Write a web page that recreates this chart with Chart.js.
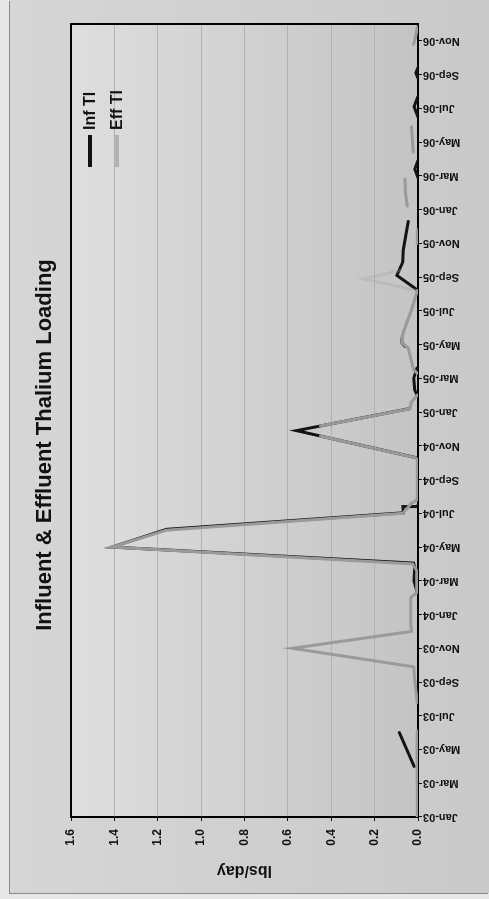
<!DOCTYPE html>
<html>
<head>
<meta charset="utf-8">
<title>Influent &amp; Effluent Thalium Loading</title>
<script src="https://cdn.jsdelivr.net/npm/chart.js@4.4.1/dist/chart.umd.min.js"></script>
<style>
  html, body { margin: 0; padding: 0; width: 489px; height: 899px; overflow: hidden; background: #e7e7e7; }
  /* the chart is laid out landscape and turned a quarter turn counter-clockwise */
  #sheet {
    position: absolute; left: 0; top: 0; width: 899px; height: 489px;
    transform-origin: 0 0; transform: translate(0, 899px) rotate(-90deg);
    background: #e7e7e7;
  }
  #frame {
    position: absolute; left: 6px; top: 10px; width: 893px; height: 479px;
    background: linear-gradient(to bottom, #d6d6d6, #c9c9c9);
    box-shadow: -1px -1px 0 #8a8a8a;
  }
  canvas { display: block; }
</style>
</head>
<body>
<div id="sheet"><div id="frame"><canvas id="chart" width="893" height="479"></canvas></div></div>
<script>
const chartTitle = 'Influent & Effluent Thalium Loading';

// Month axis: 0 = Jan-03, labelled every second month
const monthTicks = [0, 2, 4, 6, 8, 10, 12, 14, 16, 18, 20, 22, 24, 26, 28, 30, 32, 34, 36, 38, 40, 42, 44, 46];
const tickLabels = ['Jan-03', 'Mar-03', 'May-03', 'Jul-03', 'Sep-03', 'Nov-03',
                    'Jan-04', 'Mar-04', 'May-04', 'Jul-04', 'Sep-04', 'Nov-04',
                    'Jan-05', 'Mar-05', 'May-05', 'Jul-05', 'Sep-05', 'Nov-05',
                    'Jan-06', 'Mar-06', 'May-06', 'Jul-06', 'Sep-06', 'Nov-06'];
const loadTicks = [0, 0.2, 0.4, 0.6, 0.8, 1.0, 1.2, 1.4, 1.6];

// Influent thallium, lbs/day (null = no sample, line breaks)
const infMonth = [3.0, 5.0, 5.2,
                  13.3, 14.0, 14.8, 15.05, 16.0, 17.05, 18.03, 18.4, 18.4, 18.5, 18.7,
                  21.3, 22.9, 24.2, 24.5,
                  24.9, 25.3, 26.0, 26.6, 26.8,
                  27.9, 28.1, 28.5, 28.6,
                  31.3, 32.1, 32.9, 33.6, 35.3, 35.4,
                  37.9, 38.4, 38.9, 39.0,
                  41.5, 42.1, 42.7, 42.8,
                  43.8, 44.1, 44.4];
const infLbs   = [0.018, 0.086, null,
                  0.004, 0.018, 0.015, 0.02, 1.41, 1.16, 0.067, 0.07, 0.0, 0.0, null,
                  0.01, 0.56, 0.04, null,
                  0.0, 0.015, 0.02, 0.005, null,
                  0.06, 0.076, 0.072, null,
                  0.01, 0.097, 0.07, 0.068, 0.045, null,
                  0.0, 0.015, 0.0, null,
                  0.0, 0.018, 0.0, null,
                  0.0, 0.01, 0.0];

// Effluent thallium, lbs/day
const effMonth = [0, 2, 4, 5.1, 5.2,
                  6.8, 8.3, 8.9, 10.0, 11.0, 11.5, 13.0, 13.3, 14.6, 15.0, 16.0, 17.0, 18.0, 18.6, 18.8,
                  21.2, 21.3, 22.58, 22.9, 23.175, 24.2, 24.6, 25.0, 25.5,
                  26.3, 26.5, 27.8, 28.1, 28.7, 29.3, 30.05, 31.2, 31.9, 32.4, 32.5,
                  34.0, 34.8, 35.0,
                  36.2, 37.0, 37.8, 37.9,
                  39.4, 40.9, 41.0,
                  45.8, 46.3, 46.8];
const effLbs   = [0.004, 0.004, 0.005, 0.004, null,
                  0.004, 0.016, 0.02, 0.58, 0.03, 0.034, 0.034, 0.006, 0.006, 0.025, 1.41, 1.16, 0.07, 0.03, 0.003,
                  0.003, 0.012, 0.45, null, 0.45, 0.037, 0.03, 0.003, null,
                  0.003, 0.02, 0.045, 0.075, 0.068, 0.052, 0.03, 0.003, 0.25, 0.08, null,
                  0.003, 0.003, null,
                  0.05, 0.058, 0.06, null,
                  0.022, 0.03, null,
                  0.02, 0.01, 0.003];
// samples whose connecting strokes are very light
const faintMonths = [31.9];

const points = (xs, ys) => xs.map((m, i) => ({ x: m, y: ys[i] }));
const FONT = 'Liberation Sans, Arial, sans-serif';
Chart.defaults.font.family = FONT;

// graded fill behind the plot
const plotFill = {
  id: 'plotFill',
  beforeDraw(chart) {
    const { ctx, chartArea: a } = chart;
    const g = ctx.createLinearGradient(0, a.top, 0, a.bottom);
    g.addColorStop(0, '#dedede');
    g.addColorStop(1, '#c4c4c4');
    ctx.save();
    ctx.fillStyle = g;
    ctx.fillRect(a.left, a.top, a.right - a.left, a.bottom - a.top);
    ctx.restore();
  }
};

// closes the plot box on the two sides without an axis
const plotFrame = {
  id: 'plotFrame',
  beforeDatasetsDraw(chart) {
    const { ctx, chartArea: a } = chart;
    ctx.save();
    ctx.strokeStyle = '#000';
    ctx.lineWidth = 2;
    ctx.beginPath();
    ctx.moveTo(a.left, a.top);
    ctx.lineTo(a.right, a.top);
    ctx.lineTo(a.right, a.bottom);
    ctx.stroke();
    ctx.restore();
  }
};

// heading, centred on the whole chart box
const heading = {
  id: 'heading',
  afterDraw(chart) {
    const { ctx } = chart;
    ctx.save();
    ctx.font = 'bold 22px ' + FONT;
    ctx.fillStyle = '#111';
    ctx.textAlign = 'center';
    ctx.textBaseline = 'middle';
    ctx.fillText(chartTitle, 448, 35);
    ctx.restore();
  }
};

// series key inside the plot, one entry per row
const seriesKey = {
  id: 'seriesKey',
  afterDatasetsDraw(chart) {
    const { ctx, chartArea: a } = chart;
    const x0 = a.right - 143;
    ctx.save();
    ctx.font = 'bold 16px ' + FONT;
    ctx.textBaseline = 'middle';
    ctx.textAlign = 'left';
    chart.data.datasets.forEach((ds, i) => {
      const y = a.top + 19 + i * 27;
      ctx.strokeStyle = i === 0 ? '#111' : '#b2b2b2';
      ctx.lineWidth = 4;
      ctx.beginPath();
      ctx.moveTo(x0, y);
      ctx.lineTo(x0 + 32, y);
      ctx.stroke();
      ctx.fillStyle = '#111';
      ctx.fillText(ds.label, x0 + 37, y + 1);
    });
    ctx.restore();
  }
};

new Chart(document.getElementById('chart'), {
  type: 'line',
  data: {
    datasets: [
      {
        label: 'Inf Tl',
        data: points(infMonth, infLbs),
        borderColor: '#141414',
        borderWidth: 3,
        order: 2
      },
      {
        label: 'Eff Tl',
        data: points(effMonth, effLbs),
        borderColor: '#9a9a9a',
        borderWidth: 3,
        order: 1,
        segment: {
          borderColor: c => (faintMonths.includes(c.p0.parsed.x) || faintMonths.includes(c.p1.parsed.x))
            ? 'rgba(160,160,160,0.3)' : undefined
        }
      }
    ]
  },
  options: {
    responsive: false,
    animation: false,
    events: [],
    spanGaps: false,
    elements: {
      point: { radius: 0 },
      line: { tension: 0, borderCapStyle: 'round', borderJoinStyle: 'miter' }
    },
    layout: { padding: { left: 0, right: 24, top: 61, bottom: 0 } },
    plugins: {
      legend: { display: false },
      tooltip: { enabled: false },
      title: { display: false }
    },
    scales: {
      x: {
        type: 'linear',
        min: 0,
        max: 47,
        afterBuildTicks: s => { s.ticks = monthTicks.map(v => ({ value: v })); },
        afterFit: s => { s.height = 71; },
        ticks: {
          autoSkip: false,
          minRotation: 90,
          maxRotation: 90,
          padding: 1,
          color: '#111',
          font: { family: FONT, size: 11, weight: 'bold' },
          callback: (v, i) => tickLabels[i]
        },
        grid: { drawOnChartArea: false, drawTicks: true, tickLength: 4, tickColor: '#111', tickWidth: 1 },
        border: { display: true, color: '#000', width: 2 }
      },
      y: {
        min: 0,
        max: 1.6,
        afterBuildTicks: s => { s.ticks = loadTicks.map(v => ({ value: v })); },
        afterFit: s => { s.width = 76; },
        ticks: {
          padding: 8,
          color: '#111',
          font: { family: FONT, size: 12, weight: 'bold' },
          callback: v => v.toFixed(1)
        },
        grid: { color: '#b2b2b2', lineWidth: 1, tickLength: 4, tickColor: '#111' },
        border: { display: true, color: '#000', width: 2 },
        title: {
          display: true,
          text: 'lbs/day',
          color: '#111',
          font: { family: FONT, size: 16, weight: 'bold', lineHeight: 1.2 },
          padding: { top: 13, bottom: 0 }
        }
      }
    }
  },
  plugins: [plotFill, plotFrame, seriesKey, heading]
});
</script>
</body>
</html>
